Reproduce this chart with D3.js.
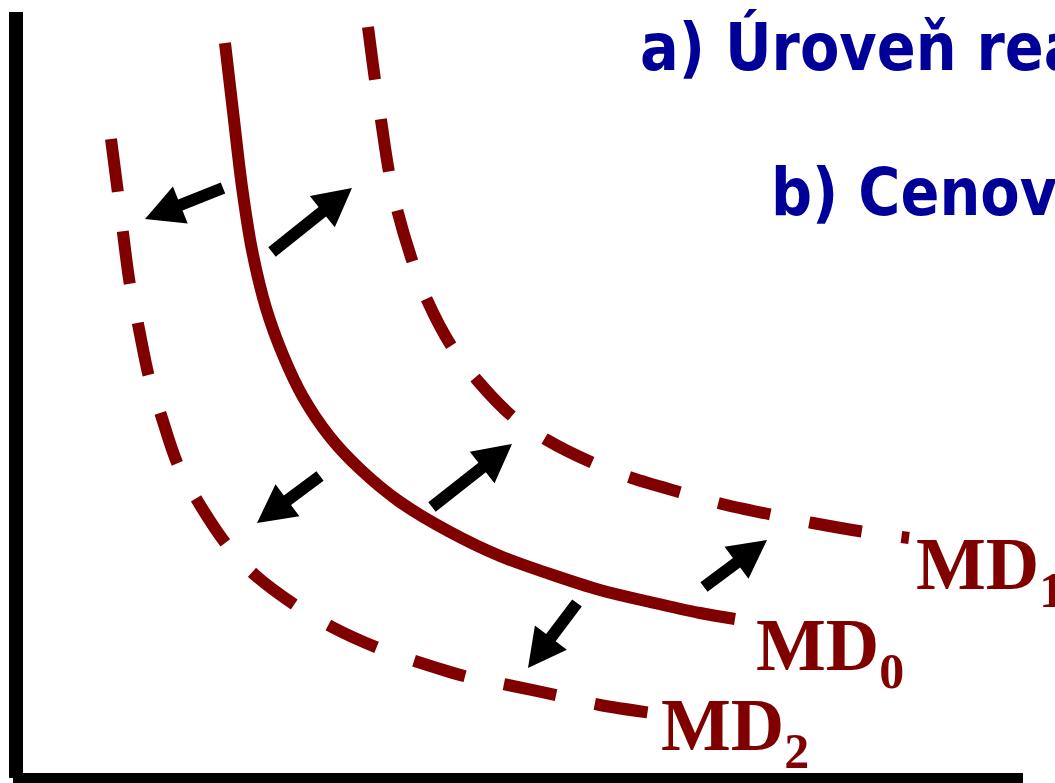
<!DOCTYPE html>
<html>
<head>
<meta charset="utf-8">
<script src="https://cdn.jsdelivr.net/npm/d3@7/dist/d3.min.js"></script>
<style>
  html, body { margin: 0; padding: 0; background: #fff; overflow: hidden; }
  svg { display: block; }
</style>
</head>
<body>
<svg id="chart" width="1055" height="783"></svg>
<script>
// ---- Data (abstract diagram units: x = quantity, y = level) ----
const curveNames = ["MD0", "MD1", "MD2"];
const curveLabels = ["MD", "MD", "MD"];
const curveSubscripts = ["0", "1", "2"];

const md0 = [[202,730],[211,653],[219,586],[229,523],[243,465],[260,418],[280,376],[307,336],
             [337,304],[377,271],[427,241],[477,217],[527,199],[577,183],[627,171],[677,160],[712,154]];
const md1 = [[345,746],[352,693],[358,653],[366,601],[375,560],[390,510],[405,471],[429,426],
             [454,393],[490,356],[524,333],[570,310],[609,295],[660,280],[699,269],[750,258],
             [790,250],[842,241],[886,235]];
const md2 = [[88,634],[95,580],[100,540],[107,488],[115,449],[126,396],[138,358],[155,308],
             [174,273],[204,228],[232,198],[272,168],[309,146],[355,125],[395,111],[445,96],
             [485,88],[537,77],[577,68],[629,60]];

// shift arrows: [tailX, tailY, tipX, tipY]
const arrows = [
  [200,585,122,554],
  [249,521,329,585],
  [297,297,234,250],
  [409,266,489,329],
  [681,186,744,233],
  [554,170,505,105]
];

const titleLines = ["a) Úroveň reálného důchodu", "b) Cenová hladina"];

// ---- Scales ----
const svg = d3.select("#chart");
const x = d3.scaleLinear().domain([0, 1000]).range([23, 1023]);
const y = d3.scaleLinear().domain([0, 760]).range([773, 13]);

const RED = "#800000";
const BLUE = "#000099";

// ---- Axes (thick black L) ----
svg.append("rect").attr("x", x(0) - 14).attr("y", y(760) - 1)
  .attr("width", 14).attr("height", 778 - (y(760) - 1)).attr("fill", "#000");
svg.append("rect").attr("x", x(0) - 10).attr("y", y(0))
  .attr("width", x(1000) - (x(0) - 10)).attr("height", 10).attr("fill", "#000");

// ---- Curves ----
const line = d3.line().x(d => x(d[0])).y(d => y(d[1])).curve(d3.curveCatmullRom.alpha(0.5));
const curves = [md0, md1, md2];
curves.forEach((pts, i) => {
  svg.append("path")
    .attr("d", line(pts))
    .attr("fill", "none")
    .attr("stroke", RED)
    .attr("stroke-width", 12)
    .attr("stroke-linecap", "butt")
    .attr("stroke-dasharray", i === 0 ? null : "53,40");
});

// ---- Arrows ----
arrows.forEach(a => {
  const x0 = x(a[0]), y0 = y(a[1]), x1 = x(a[2]), y1 = y(a[3]);
  const dx = x1 - x0, dy = y1 - y0, L = Math.hypot(dx, dy);
  const ux = dx / L, uy = dy / L, nx = -uy, ny = ux;
  const headLen = 38, headHalf = 20, shaftHalf = 6;
  const bx = x1 - ux * headLen, by = y1 - uy * headLen;
  const p = [
    [x0 + nx * shaftHalf, y0 + ny * shaftHalf],
    [bx + nx * shaftHalf, by + ny * shaftHalf],
    [bx + nx * headHalf, by + ny * headHalf],
    [x1, y1],
    [bx - nx * headHalf, by - ny * headHalf],
    [bx - nx * shaftHalf, by - ny * shaftHalf],
    [x0 - nx * shaftHalf, y0 - ny * shaftHalf]
  ];
  svg.append("polygon").attr("points", p.map(q => q.join(",")).join(" ")).attr("fill", "#000");
});

// ---- Curve labels ----
const labelOffsets = [[21, 51], [7, 51], [9, 37]];
curves.forEach((pts, i) => {
  const last = pts[pts.length - 1];
  const t = svg.append("text")
    .attr("x", x(last[0]) + labelOffsets[i][0])
    .attr("y", y(last[1]) + labelOffsets[i][1])
    .attr("font-family", "'Liberation Serif', 'Times New Roman', serif")
    .attr("font-weight", "bold")
    .attr("font-size", 74)
    .attr("fill", RED);
  t.append("tspan").text(curveLabels[i]);
  t.append("tspan").attr("font-size", 50).attr("dy", 18).text(curveSubscripts[i]);
});

// ---- Title lines (clipped at the right edge, as in the reference) ----
const titlePos = [[640, 70], [771, 215]];
titleLines.forEach((s, i) => {
  svg.append("text")
    .attr("transform", `translate(${titlePos[i][0]},${titlePos[i][1]}) scale(0.87,1)`)
    .attr("font-family", "'DejaVu Sans', Verdana, sans-serif")
    .attr("font-weight", "bold")
    .attr("font-size", 66)
    .attr("fill", BLUE)
    .text(s);
});
</script>
</body>
</html>
